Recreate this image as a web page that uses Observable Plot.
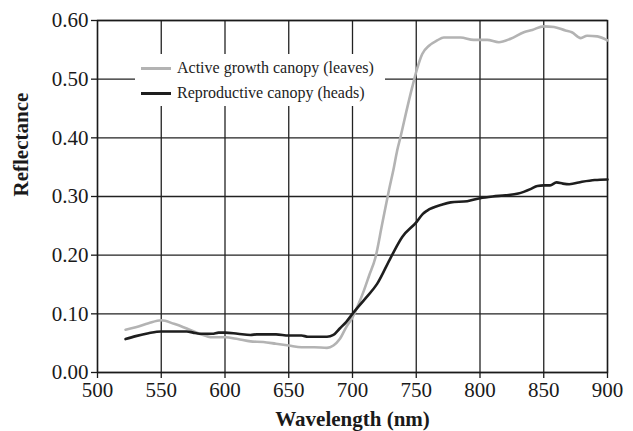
<!DOCTYPE html>
<html>
<head>
<meta charset="utf-8">
<script src="https://cdn.jsdelivr.net/npm/d3@7"></script>
<script src="https://cdn.jsdelivr.net/npm/@observablehq/plot@0.6"></script>
<style>
  html, body { margin: 0; padding: 0; background: #fff; }
  #wrap { position: relative; width: 633px; height: 431px; }
  #legend {
    position: absolute; left: 135px; top: 54px; width: 250px; height: 52px;
    background: #fff; font-family: "Liberation Serif", serif; font-size: 16px; color: #222;
  }
  .item { position: absolute; left: 6px; height: 20px; display: flex; align-items: center; }
  .sw { width: 30px; height: 0; border-top-width: 3px; border-top-style: solid; margin-right: 6px; }
</style>
</head>
<body>
<div id="wrap"></div>
<script>
// Active growth canopy (leaves)
const activeNm = [522,530,540,550,560,570,580,590,600,610,620,630,640,650,660,670,680,685,690,695,700,705,709,713,718,723,728.5,732.5,735,737.6,743,746.8,750.7,754.7,760,766.4,771.6,784.7,795,805.6,814.8,824,834.4,841,850,858,867,872,879,884,892,900];
const activeVal = [0.073,0.077,0.084,0.089,0.083,0.075,0.066,0.060,0.060,0.057,0.053,0.052,0.049,0.046,0.043,0.043,0.042,0.046,0.057,0.077,0.094,0.118,0.140,0.165,0.196,0.250,0.310,0.350,0.378,0.401,0.452,0.486,0.518,0.543,0.557,0.566,0.571,0.571,0.567,0.567,0.563,0.569,0.580,0.584,0.590,0.589,0.583,0.580,0.570,0.574,0.573,0.566];

// Reproductive canopy (heads)
const reproNm = [522,530,540,550,560,570,575,580,590,595,600,610,620,625,640,650,660,665,680,685,690,695,700,710,719.3,730,739,750,755,758.6,770,777,790,800,810,820,830,840,845,850,855,860,865,870,880,890,900];
const reproVal = [0.057,0.062,0.067,0.070,0.070,0.070,0.068,0.066,0.066,0.068,0.068,0.066,0.064,0.065,0.065,0.063,0.063,0.061,0.061,0.064,0.075,0.086,0.100,0.126,0.151,0.196,0.231,0.256,0.270,0.276,0.286,0.290,0.292,0.297,0.300,0.302,0.305,0.313,0.318,0.319,0.319,0.324,0.322,0.321,0.325,0.328,0.329];

const seriesNames = ["Active growth canopy (leaves)", "Reproductive canopy (heads)"];
const seriesColors = ["#b3b3b3", "#1e1e1e"];
const xTicks = [500,550,600,650,700,750,800,850,900];
const yTicks = [0,0.1,0.2,0.3,0.4,0.5,0.6];
const xLabel = "Wavelength (nm)";
const yLabel = "Reflectance";

const active = activeNm.map((x, i) => ({x, y: activeVal[i]}));
const repro = reproNm.map((x, i) => ({x, y: reproVal[i]}));

const chart = Plot.plot({
  width: 633,
  height: 431,
  marginLeft: 97,
  marginRight: 26,
  marginTop: 20,
  marginBottom: 59,
  style: {fontFamily: "Liberation Serif, serif", fontSize: "21px", color: "#1a1a1a", background: "#fff"},
  x: {domain: [500, 900]},
  y: {domain: [0, 0.6]},
  marks: [
    Plot.gridX(xTicks, {stroke: "#222", strokeOpacity: 1, strokeWidth: 1.3}),
    Plot.gridY(yTicks, {stroke: "#222", strokeOpacity: 1, strokeWidth: 1.3}),
    Plot.frame({stroke: "#1a1a1a", strokeWidth: 1.4}),
    Plot.axisX(xTicks, {tickSize: 6, tickPadding: 4, label: null, fontSize: 21, stroke: "#1a1a1a", strokeWidth: 1.3}),
    Plot.axisY(yTicks, {tickSize: 6, tickPadding: 3, label: null, tickFormat: d3.format(".2f"), fontSize: 21, stroke: "#1a1a1a", strokeWidth: 1.3}),
    Plot.line(active, {x: "x", y: "y", stroke: seriesColors[0], strokeWidth: 2.6, curve: "monotone-x"}),
    Plot.line(repro, {x: "x", y: "y", stroke: seriesColors[1], strokeWidth: 2.6, curve: "monotone-x"}),
    Plot.text([xLabel], {frameAnchor: "bottom", lineAnchor: "middle", dy: 47, fontWeight: "bold", fontSize: 21, fill: "#1a1a1a"}),
    Plot.text([yLabel], {frameAnchor: "left", lineAnchor: "middle", rotate: -90, dx: -76, fontWeight: "bold", fontSize: 21, fill: "#1a1a1a"})
  ]
});

const wrap = document.getElementById("wrap");
wrap.appendChild(chart);

const legend = document.createElement("div");
legend.id = "legend";
seriesNames.forEach((name, i) => {
  const item = document.createElement("div");
  item.className = "item";
  item.style.top = (4 + i * 25) + "px";
  const sw = document.createElement("span");
  sw.className = "sw";
  sw.style.borderTopColor = seriesColors[i];
  const t = document.createElement("span");
  t.textContent = name;
  item.appendChild(sw);
  item.appendChild(t);
  legend.appendChild(item);
});
wrap.appendChild(legend);
</script>
</body>
</html>
